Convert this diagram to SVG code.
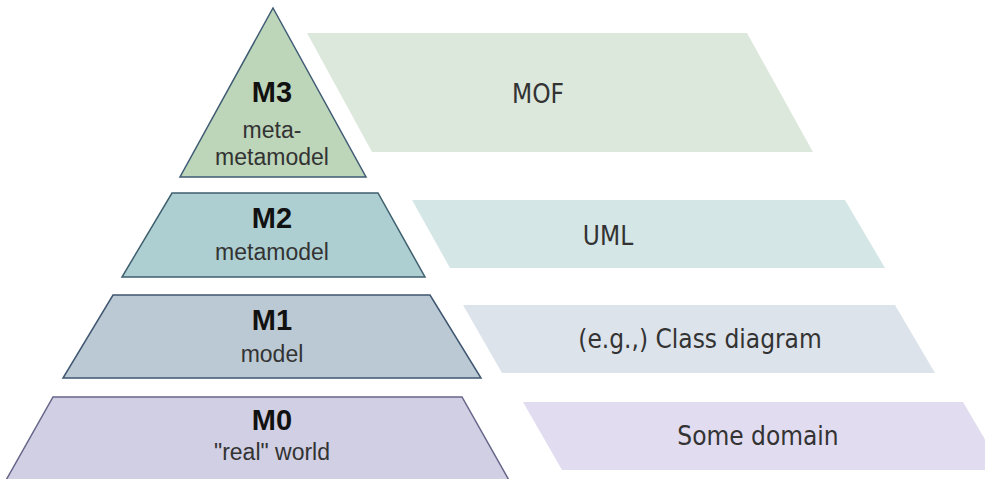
<svg xmlns="http://www.w3.org/2000/svg" width="985" height="479" viewBox="0 0 985 479">
<style>
.tier{stroke-width:1.5;stroke-linejoin:miter}
.lvl{font-family:"Liberation Sans",Arial,sans-serif;font-weight:bold;font-size:29px;fill:#111;text-anchor:middle}
.desc{font-family:"Liberation Sans",Arial,sans-serif;font-size:23px;fill:#333;text-anchor:middle}
.plab{font-family:"DejaVu Sans Condensed","DejaVu Sans",sans-serif;font-stretch:condensed;font-size:26px;fill:#333;text-anchor:middle}
</style>
<rect width="985" height="479" fill="#ffffff"/>
<g id="m3">
<polygon class="tier" points="273,8 366,177 180,177" fill="#bdd6ba" stroke="#3f5b73"/>
<text class="lvl" x="272" y="102">M3</text>
<text class="desc" x="272" y="138">meta-</text>
<text class="desc" x="272" y="165">metamodel</text>
</g>
<g id="mof">
<polygon points="307,33 747,33 813,152 372,152" fill="#dde8dc"/>
<text class="plab" x="538" y="103">MOF</text>
</g>
<g id="m2">
<polygon class="tier" points="172,193 378,193 425,277 122,277" fill="#aecfd2" stroke="#3f5f6e"/>
<text class="lvl" x="272" y="228">M2</text>
<text class="desc" x="272" y="260">metamodel</text>
</g>
<g id="uml">
<polygon points="412,200 845,200 885,268 450,268" fill="#d5e6e6"/>
<text class="plab" x="608" y="245">UML</text>
</g>
<g id="m1">
<polygon class="tier" points="113,295 430,295 481,378 63,378" fill="#bbc9d4" stroke="#3f5670"/>
<text class="lvl" x="272" y="330">M1</text>
<text class="desc" x="272" y="362">model</text>
</g>
<g id="classdiagram">
<polygon points="463,305 895,305 935,373 502,373" fill="#dde3ea"/>
<text class="plab" x="700" y="348">(e.g.,) Class diagram</text>
</g>
<g id="m0">
<polygon class="tier" points="53,397 462,397 510,482 5,482" fill="#d0cfe3" stroke="#66668a"/>
<text class="lvl" x="272" y="430">M0</text>
<text class="desc" x="272" y="460">"real" world</text>
</g>
<g id="somedomain">
<polygon points="523,402 963,402 1003,470 562,470" fill="#e1dcf0"/>
<text class="plab" x="758" y="445">Some domain</text>
</g>
</svg>
